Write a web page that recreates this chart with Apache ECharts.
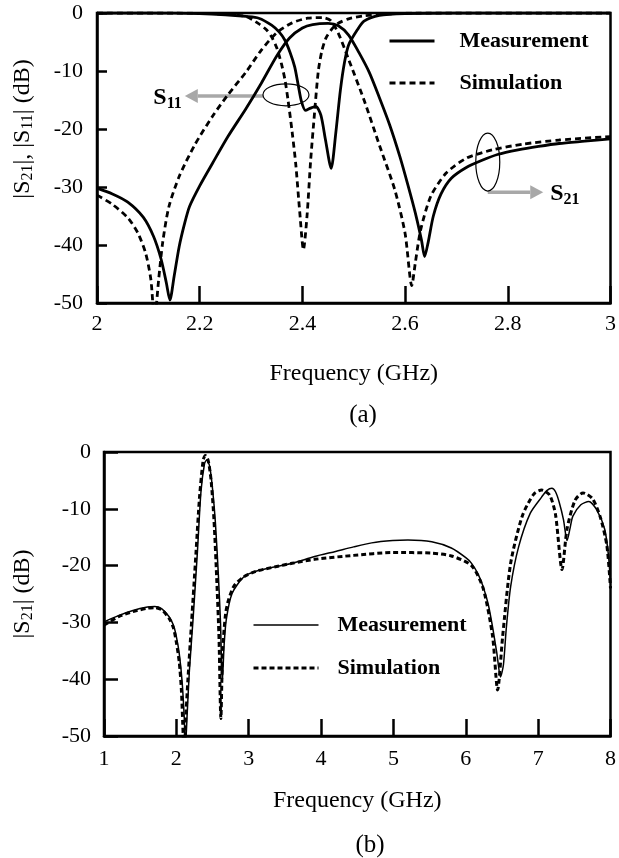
<!DOCTYPE html>
<html><head><meta charset="utf-8">
<script src="https://cdn.jsdelivr.net/npm/echarts@6/dist/echarts.min.js"></script>
<style>html,body{margin:0;padding:0;background:#fff}#c{width:619px;height:858px}</style>
</head><body><div id="c"></div>
<script>
// ---- Top chart (a): 2–3 GHz, [frequency GHz, dB] ----
const topS21Meas = [[2.00,-30.2],[2.03,-31.2],[2.06,-32.6],[2.09,-35.2],[2.11,-38.5],[2.125,-42.5],[2.135,-46.5],[2.142,-49.5],[2.15,-45.5],[2.16,-40.3],[2.17,-36.5],[2.18,-33.4],[2.20,-29.8],[2.225,-25.9],[2.255,-21.3],[2.29,-16.5],[2.32,-12.1],[2.35,-7.4],[2.375,-4.3],[2.40,-2.6],[2.42,-2.0],[2.45,-1.8],[2.47,-2.2],[2.49,-3.8],[2.51,-6.8],[2.53,-10.2],[2.55,-14.6],[2.57,-19.3],[2.59,-24.8],[2.605,-29.5],[2.62,-34.5],[2.632,-39.2],[2.638,-42.0],[2.645,-39.5],[2.655,-35.0],[2.67,-31.2],[2.69,-28.5],[2.72,-26.6],[2.75,-25.4],[2.78,-24.4],[2.82,-23.6],[2.86,-23.0],[2.90,-22.5],[2.95,-22.1],[3.00,-21.7]];
const topS21Sim = [[2.00,-31.4],[2.03,-33.0],[2.06,-35.3],[2.08,-38.0],[2.095,-41.5],[2.105,-46],[2.112,-53],[2.12,-46],[2.128,-39.5],[2.14,-33.4],[2.16,-28.2],[2.19,-22.8],[2.225,-17.8],[2.255,-14.1],[2.29,-10.2],[2.32,-6.4],[2.35,-3.4],[2.38,-1.7],[2.41,-0.9],[2.44,-0.8],[2.455,-1.3],[2.47,-3.5],[2.49,-8.0],[2.52,-15.0],[2.55,-22.8],[2.58,-30.5],[2.60,-38.0],[2.613,-47.0],[2.62,-43.0],[2.63,-37.5],[2.65,-31.6],[2.68,-27.6],[2.72,-25.0],[2.77,-23.6],[2.83,-22.6],[2.90,-21.9],[3.00,-21.3]];
const topS11Meas = [[2.00,0],[2.10,0],[2.20,-0.1],[2.25,-0.3],[2.29,-0.6],[2.315,-0.9],[2.34,-2.1],[2.355,-3.3],[2.366,-4.7],[2.376,-6.8],[2.385,-9.3],[2.392,-12.5],[2.398,-15.2],[2.406,-16.8],[2.416,-16.4],[2.426,-16.1],[2.436,-17.6],[2.445,-21.9],[2.456,-26.8],[2.465,-20.7],[2.474,-13.3],[2.482,-8.5],[2.49,-5.5],[2.507,-2.9],[2.52,-1.4],[2.55,-0.4],[2.60,-0.1],[2.70,0],[3.00,0]];
const topS11Sim = [[2.00,0],[2.15,0],[2.25,-0.2],[2.29,-0.6],[2.314,-1.8],[2.33,-2.9],[2.34,-4.1],[2.35,-6.0],[2.359,-8.7],[2.366,-11.5],[2.372,-15.0],[2.38,-20.5],[2.387,-26],[2.395,-34.5],[2.402,-40.8],[2.409,-35],[2.416,-25.5],[2.423,-17.9],[2.431,-10.0],[2.438,-6.5],[2.446,-4.3],[2.458,-2.7],[2.469,-1.8],[2.49,-1.0],[2.52,-0.5],[2.56,-0.2],[2.62,0],[3.00,0]];

// ---- Bottom chart (b): 1–8 GHz ----
const botMeas = [[1.0,-29.9],[1.2,-28.8],[1.4,-27.9],[1.6,-27.3],[1.7,-27.2],[1.8,-27.6],[1.9,-29.0],[1.96,-30.5],[2.0,-32.5],[2.04,-35.5],[2.08,-40.5],[2.11,-47],[2.125,-52],[2.15,-46],[2.18,-38.5],[2.23,-29.6],[2.29,-17.8],[2.34,-7.0],[2.39,-2.0],[2.42,-1.4],[2.46,-2.5],[2.50,-6.5],[2.54,-12.5],[2.58,-21.5],[2.61,-30],[2.635,-40.5],[2.66,-34],[2.69,-29.5],[2.77,-24.9],[2.93,-22.0],[3.1,-21.0],[3.37,-20.2],[3.6,-19.6],[3.91,-18.4],[4.2,-17.5],[4.45,-16.7],[4.7,-16.0],[4.99,-15.6],[5.2,-15.5],[5.53,-15.8],[5.8,-16.9],[6.0,-18.6],[6.08,-19.6],[6.17,-21.5],[6.24,-23.7],[6.31,-26.8],[6.37,-30.8],[6.43,-35.5],[6.48,-39.6],[6.52,-37.5],[6.56,-31.0],[6.62,-23.7],[6.73,-16.7],[6.89,-10.8],[7.05,-7.9],[7.12,-6.8],[7.19,-6.4],[7.24,-7.0],[7.29,-8.8],[7.35,-11.9],[7.40,-15.6],[7.44,-13.5],[7.48,-11.3],[7.59,-9.3],[7.70,-8.7],[7.81,-10.2],[7.92,-13.6],[7.97,-18],[8.0,-23]];
const botSim = [[1.0,-30.5],[1.2,-29.0],[1.4,-28.1],[1.6,-27.5],[1.7,-27.4],[1.8,-27.8],[1.9,-29.3],[1.96,-31],[2.0,-33.5],[2.04,-37],[2.07,-42],[2.095,-50],[2.11,-53],[2.13,-47],[2.16,-40],[2.21,-30],[2.27,-18],[2.32,-8],[2.37,-1.5],[2.40,-0.6],[2.44,-1.5],[2.48,-5],[2.52,-12],[2.56,-23],[2.59,-33],[2.615,-46.9],[2.64,-35],[2.68,-28.5],[2.72,-26.1],[2.8,-23.5],[2.93,-22.0],[3.1,-21.0],[3.37,-20.2],[3.6,-19.6],[3.91,-18.9],[4.45,-18.2],[4.99,-17.7],[5.53,-17.8],[5.8,-18.3],[6.08,-20.0],[6.24,-24.0],[6.37,-32.4],[6.44,-41.9],[6.51,-32.4],[6.62,-19.6],[6.78,-11.3],[6.94,-7.4],[7.05,-6.7],[7.16,-7.6],[7.24,-11.0],[7.33,-20.7],[7.40,-13.5],[7.51,-8.5],[7.62,-7.2],[7.75,-8.2],[7.86,-11.5],[7.95,-16.5],[8.0,-24]];

const legendNames = ['Measurement', 'Simulation'];
// annotation anchors in data coords of chart (a)
const s11Ellipse = [2.368, -14.1];
const s11ArrowEnd = [2.171, -14.3];
const s21Ellipse = [2.761, -25.7];
const s21ArrowStart = [2.761, -30.9];
const s21ArrowEnd = [2.869, -30.9];

const FONT = '"Liberation Serif","Times New Roman",serif';
const chart = echarts.init(document.getElementById('c'), null, {renderer: 'canvas'});

function xAxisCfg(gi, min, max, interval, gap, margin) {
  return {
    type: 'value', gridIndex: gi, min, max, interval,
    name: 'Frequency (GHz)', nameLocation: 'middle', nameGap: gap,
    nameTextStyle: {fontFamily: FONT, fontSize: 24, color: '#000'},
    axisLine: {onZero: false, lineStyle: {color: '#000', width: 2.5}},
    axisTick: {inside: true, length: 17, lineStyle: {color: '#000', width: 2.5}},
    axisLabel: {fontFamily: FONT, fontSize: 22, color: '#000', margin},
    splitLine: {show: false}
  };
}
function yAxisCfg(gi, name, gap, tickLen, margin, pad) {
  return {
    type: 'value', gridIndex: gi, min: -50, max: 0, interval: 10,
    name, nameLocation: 'middle', nameGap: gap, nameRotate: 90,
    nameTextStyle: {fontFamily: FONT, fontSize: 24, color: '#000', padding: [0, 0, 0, pad],
      rich: {s: {fontFamily: FONT, fontSize: 16, color: '#000', verticalAlign: 'bottom', padding: [10, 0, 0, 0]}}},
    axisLine: {onZero: false, lineStyle: {color: '#000', width: 2.5}},
    axisTick: {inside: true, length: tickLen, lineStyle: {color: '#000', width: 2.5}},
    axisLabel: {fontFamily: FONT, fontSize: 22, color: '#000', margin},
    splitLine: {show: false}
  };
}
function line(name, data, xi, width, dashed) {
  return {
    name, type: 'line', xAxisIndex: xi, yAxisIndex: xi, data,
    symbol: 'none', smooth: 0.25, clip: true,
    lineStyle: {color: '#000', width, type: dashed ? dashed : 'solid'},
    itemStyle: {color: '#000'}
  };
}
const hiddenSymbol = {color: 'rgba(0,0,0,0)', borderWidth: 0, opacity: 0};

chart.setOption({
  animation: false,
  backgroundColor: '#fff',
  title: [
    {text: '(a)', left: 358, top: 398, textAlign: 'center', textStyle: {fontFamily: FONT, fontSize: 25, fontWeight: 'normal', color: '#000'}},
    {text: '(b)', left: 365, top: 828, textAlign: 'center', textStyle: {fontFamily: FONT, fontSize: 25, fontWeight: 'normal', color: '#000'}}
  ],
  grid: [
    {left: 97, top: 13, width: 519, height: 290, show: true, borderColor: '#000', borderWidth: 2.5, backgroundColor: 'transparent'},
    {left: 104, top: 452, width: 512, height: 284, show: true, borderColor: '#000', borderWidth: 2.5, backgroundColor: 'transparent'}
  ],
  xAxis: [xAxisCfg(0, 2, 3, 0.2, 59, 10), xAxisCfg(1, 1, 8, 1, 53, 12)],
  yAxis: [yAxisCfg(0, '|S{s|21}|, |S{s|11}| (dB)', 61, 10, 14, 58), yAxisCfg(1, '|S{s|21}| (dB)', 68, 14, 13, 0)],
  legend: [
    {orient: 'vertical', left: 383, top: 25, itemWidth: 45, itemHeight: 22, itemGap: 20, selectedMode: false,
     textStyle: {fontFamily: FONT, fontSize: 22, fontWeight: 'bold', color: '#000', padding: [0, 0, 0, 20]},
     data: [{name: legendNames[0], itemStyle: hiddenSymbol, lineStyle: {width: 3, type: 'solid', color: '#000'}},
            {name: legendNames[1], itemStyle: hiddenSymbol, lineStyle: {width: 3, type: [6, 4], color: '#000'}}]},
    {orient: 'vertical', left: 247, top: 609, itemWidth: 65, itemHeight: 22, itemGap: 21, selectedMode: false,
     textStyle: {fontFamily: FONT, fontSize: 22, fontWeight: 'bold', color: '#000', padding: [0, 0, 0, 14]},
     data: [{name: legendNames[0], itemStyle: hiddenSymbol, lineStyle: {width: 1.5, type: 'solid', color: '#000'}},
            {name: legendNames[1], itemStyle: hiddenSymbol, lineStyle: {width: 3, type: [5, 3], color: '#000'}}]}
  ],
  series: [
    line(legendNames[0], topS21Meas, 0, 2.8),
    line(legendNames[1], topS21Sim, 0, 2.8, [6, 4]),
    line(legendNames[0], topS11Meas, 0, 2.8),
    line(legendNames[1], topS11Sim, 0, 2.8, [6, 4]),
    line(legendNames[0], botMeas, 1, 1.5),
    line(legendNames[1], botSim, 1, 3, [5, 3])
  ]
});

function px(p) { return chart.convertToPixel({gridIndex: 0}, p); }
function arrow(from, to, color) {
  const dx = to[0] - from[0], dy = to[1] - from[1];
  const len = Math.hypot(dx, dy), ux = dx / len, uy = dy / len;
  const hl = 13, hw = 7;
  const bx = to[0] - ux * hl, by = to[1] - uy * hl;
  return [
    {type: 'line', shape: {x1: from[0], y1: from[1], x2: bx, y2: by}, style: {stroke: color, lineWidth: 3.5}},
    {type: 'polygon', shape: {points: [[to[0], to[1]], [bx - uy * hw, by + ux * hw], [bx + uy * hw, by - ux * hw]]}, style: {fill: color}}
  ];
}
const e1 = px(s11Ellipse), a1 = px(s11ArrowEnd);
const e2 = px(s21Ellipse), a2s = px(s21ArrowStart), a2e = px(s21ArrowEnd);
const gray = '#a8a8a8';
const labelStyle = {fontFamily: FONT, fontSize: 24, fontWeight: 'bold', fill: '#000'};
chart.setOption({
  graphic: [
    {type: 'ellipse', shape: {cx: e1[0], cy: e1[1], rx: 23, ry: 11}, style: {fill: 'none', stroke: '#000', lineWidth: 1.2}, z: 10},
    ...arrow([e1[0] - 23, a1[1]], a1, gray),
    {type: 'text', x: a1[0] - 3, y: a1[1] + 2, style: {text: 'S{s|11}', align: 'right', verticalAlign: 'middle', ...labelStyle,
      rich: {s: {fontFamily: FONT, fontSize: 16, fontWeight: 'bold', fill: '#000', verticalAlign: 'bottom', padding: [12, 0, 0, 0]}}}, z: 10},
    {type: 'ellipse', shape: {cx: e2[0], cy: e2[1], rx: 12, ry: 29}, style: {fill: 'none', stroke: '#000', lineWidth: 1.2}, z: 10},
    ...arrow(a2s, a2e, gray),
    {type: 'text', x: a2e[0] + 7, y: a2e[1] + 2, style: {text: 'S{s|21}', align: 'left', verticalAlign: 'middle', ...labelStyle,
      rich: {s: {fontFamily: FONT, fontSize: 16, fontWeight: 'bold', fill: '#000', verticalAlign: 'bottom', padding: [12, 0, 0, 0]}}}, z: 10}
  ]
});
</script>
</body></html>
